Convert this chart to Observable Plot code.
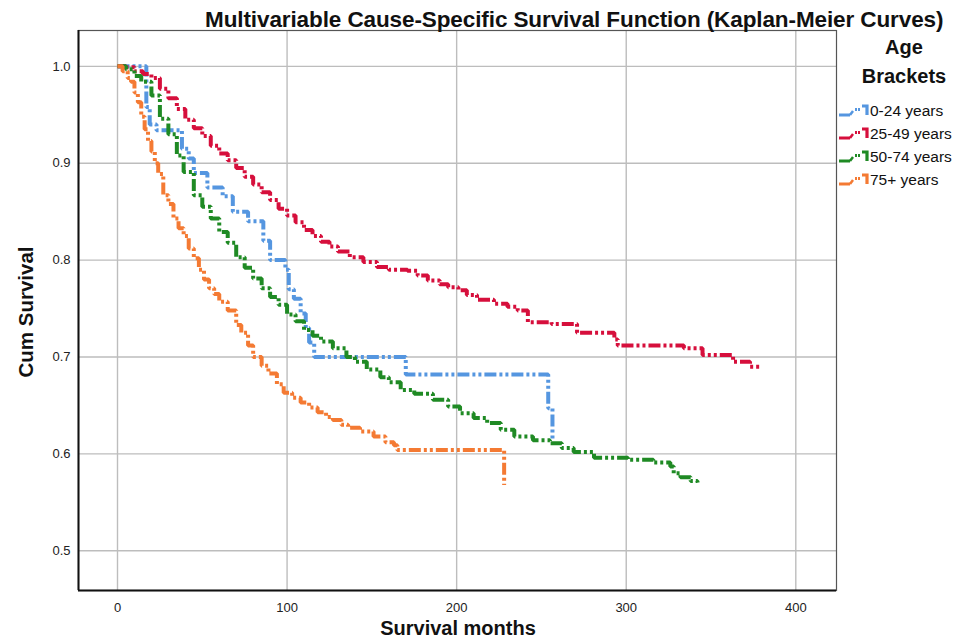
<!DOCTYPE html>
<html>
<head>
<meta charset="utf-8">
<script src="https://cdn.jsdelivr.net/npm/d3@7"></script>
<script src="https://cdn.jsdelivr.net/npm/@observablehq/plot@0.6"></script>
<style>
  body { margin: 0; background: #fff; overflow: hidden; }
  #wrap { position: relative; width: 966px; height: 641px; font-family: "Liberation Sans", Arial, sans-serif; color: #111; overflow: hidden; }
  #title { position: absolute; left: 205px; top: 7px; font-weight: bold; font-size: 22.5px; white-space: nowrap; letter-spacing: -0.1px; }
  #ytitle { position: absolute; left: 26px; top: 312px; transform: translate(-50%, -50%) rotate(-90deg); font-weight: bold; font-size: 20.5px; white-space: nowrap; }
  #xtitle { position: absolute; left: 458px; top: 628px; transform: translate(-50%, -50%); font-weight: bold; font-size: 20px; line-height: 22px; white-space: nowrap; }
  #legend { position: absolute; left: 838px; top: 33px; width: 128px; }
  #legend .head { text-align: center; font-weight: bold; font-size: 20px; line-height: 29px; margin-left: 4px; margin-bottom: 9px; }
  #legend .item { display: flex; align-items: center; height: 22.8px; font-size: 15.5px; }
  #legend svg { margin-right: 1px; }
  #chart svg text { font-family: "Liberation Sans", Arial, sans-serif; }
</style>
</head>
<body>
<div id="wrap">
  <div id="chart"></div>
  <div id="title">Multivariable Cause-Specific Survival Function (Kaplan-Meier Curves)</div>
  <div id="ytitle">Cum Survival</div>
  <div id="xtitle">Survival months</div>
  <div id="legend"></div>
</div>
<script>
// ---- data ----
const groups = ["0-24 years", "25-49 years", "50-74 years", "75+ years"];
const colors = ["#5596e0", "#d60f3c", "#1f8a24", "#f47a33"];

const xTicks = [0, 100, 200, 300, 400];
const yTicks = [0.5, 0.6, 0.7, 0.8, 0.9, 1.0];
const xDomain = [-23, 424];
const yDomain = [0.459, 1.037];

// 0-24 years
const time0 = [0, 17, 19, 23, 38, 42, 45, 53, 62, 68, 77, 86, 90, 99, 101, 104, 108, 111, 113, 116, 170, 254, 256.5];
const surv0 = [1.0, 0.958, 0.94, 0.934, 0.915, 0.905, 0.89, 0.875, 0.866, 0.85, 0.84, 0.82, 0.80, 0.79, 0.77, 0.76, 0.745, 0.73, 0.715, 0.70, 0.682, 0.647, 0.614];

// 25-49 years
const time1 = [0, 5, 10, 15, 20, 25, 30, 35, 40, 45, 50, 55, 60, 65, 70, 75, 80, 85, 90, 95, 100, 105, 110, 115, 120, 125, 130, 137, 145, 153, 160, 171, 177, 183, 190, 195, 201, 206, 212, 222, 230, 236, 242, 256, 271, 293, 295, 334, 345, 363, 373, 379];
const surv1 = [1.0, 0.999, 0.995, 0.992, 0.988, 0.977, 0.967, 0.956, 0.945, 0.936, 0.928, 0.918, 0.910, 0.903, 0.895, 0.886, 0.878, 0.870, 0.862, 0.853, 0.846, 0.839, 0.831, 0.825, 0.819, 0.814, 0.809, 0.803, 0.798, 0.793, 0.790, 0.789, 0.784, 0.779, 0.775, 0.772, 0.769, 0.764, 0.759, 0.755, 0.752, 0.748, 0.736, 0.734, 0.725, 0.718, 0.712, 0.709, 0.702, 0.695, 0.690, 0.688];

// 50-74 years
const time2 = [0, 5, 10, 14, 20, 25, 30, 35, 39, 45, 50, 55, 60, 65, 70, 75, 80, 85, 90, 95, 100, 105, 110, 115, 120, 127, 135, 140, 147, 155, 160, 167, 175, 186, 195, 202, 210, 218, 226, 234, 245, 255, 262, 269, 281, 301, 316, 326, 328, 332, 338, 342];
const surv2 = [1.0, 0.997, 0.99, 0.984, 0.970, 0.946, 0.93, 0.908, 0.891, 0.867, 0.855, 0.843, 0.829, 0.818, 0.803, 0.792, 0.781, 0.771, 0.762, 0.754, 0.744, 0.737, 0.728, 0.722, 0.716, 0.709, 0.700, 0.695, 0.687, 0.679, 0.674, 0.666, 0.662, 0.656, 0.649, 0.642, 0.637, 0.632, 0.625, 0.618, 0.614, 0.611, 0.606, 0.602, 0.596, 0.594, 0.591, 0.587, 0.580, 0.576, 0.572, 0.568];

// 75+ years
const time3 = [0, 3, 6, 8, 10, 12, 14, 16, 18, 20, 22, 24, 27, 30, 33, 36, 39, 42, 45, 48, 51, 54, 57, 60, 65, 70, 73, 77, 80, 85, 89, 94, 98, 103, 108, 113, 118, 123, 127, 132, 136, 143, 151, 158, 163, 165, 228];
const surv3 = [1.0, 0.995, 0.988, 0.984, 0.973, 0.963, 0.948, 0.935, 0.923, 0.912, 0.90, 0.889, 0.867, 0.858, 0.843, 0.833, 0.825, 0.812, 0.802, 0.790, 0.780, 0.771, 0.765, 0.757, 0.748, 0.733, 0.725, 0.712, 0.700, 0.691, 0.683, 0.672, 0.663, 0.658, 0.653, 0.648, 0.643, 0.638, 0.635, 0.630, 0.627, 0.623, 0.618, 0.612, 0.609, 0.604, 0.568];

const times = [time0, time1, time2, time3];
const survs = [surv0, surv1, surv2, surv3];

// ---- build table ----
const rows = [];
groups.forEach((g, i) => {
  times[i].forEach((t, j) => rows.push({ group: g, t, s: survs[i][j] }));
});

const dash = "12,3,3,3,3,3";

const chart = Plot.plot({
  width: 966,
  height: 641,
  marginLeft: 78,
  marginRight: 130,
  marginTop: 30,
  marginBottom: 51,
  style: { background: "transparent", fontSize: "13px", color: "#222" },
  x: { domain: xDomain, ticks: xTicks },
  y: { domain: yDomain, ticks: yTicks },
  color: { domain: groups, range: colors },
  marks: [
    Plot.gridX(xTicks, { stroke: "#bdbdbd", strokeOpacity: 1, strokeWidth: 1.4 }),
    Plot.gridY(yTicks, { stroke: "#bdbdbd", strokeOpacity: 1, strokeWidth: 1.4 }),
    Plot.frame({ stroke: "#555", strokeWidth: 1.2 }),
    Plot.ruleX([xDomain[0]], { stroke: "#111", strokeWidth: 2 }),
    Plot.ruleY([yDomain[0]], { stroke: "#111", strokeWidth: 2 }),
    Plot.axisX(xTicks, { tickSize: 0, tickPadding: 12, label: null, fontSize: 13 }),
    Plot.axisY(yTicks, { tickSize: 0, tickPadding: 8, label: null, tickFormat: d3.format(".1f"), fontSize: 13 }),
    Plot.line(rows, {
      x: "t", y: "s", z: "group", stroke: "group",
      curve: "step-after", strokeWidth: 4,
      strokeDasharray: dash, strokeLinecap: "butt", strokeLinejoin: "miter"
    })
  ]
});
document.getElementById("chart").appendChild(chart);

// ---- legend ----
const legend = document.getElementById("legend");
legend.innerHTML = '<div class="head">Age<br>Brackets</div>';
groups.forEach((g, i) => {
  const c = colors[i];
  const item = document.createElement("div");
  item.className = "item";
  item.innerHTML =
    `<svg width="31" height="16" viewBox="0 0 31 16">
       <path d="M1,12 H12" stroke="${c}" stroke-width="3"/>
       <path d="M12,12 L15,8" stroke="${c}" stroke-width="2.5"/>
       <path d="M18,5 V8 M21,5 V8" stroke="${c}" stroke-width="2"/>
       <path d="M24,3 H29 V12" stroke="${c}" stroke-width="3.2" fill="none"/>
     </svg><span>${g}</span>`;
  legend.appendChild(item);
});
</script>
</body>
</html>
